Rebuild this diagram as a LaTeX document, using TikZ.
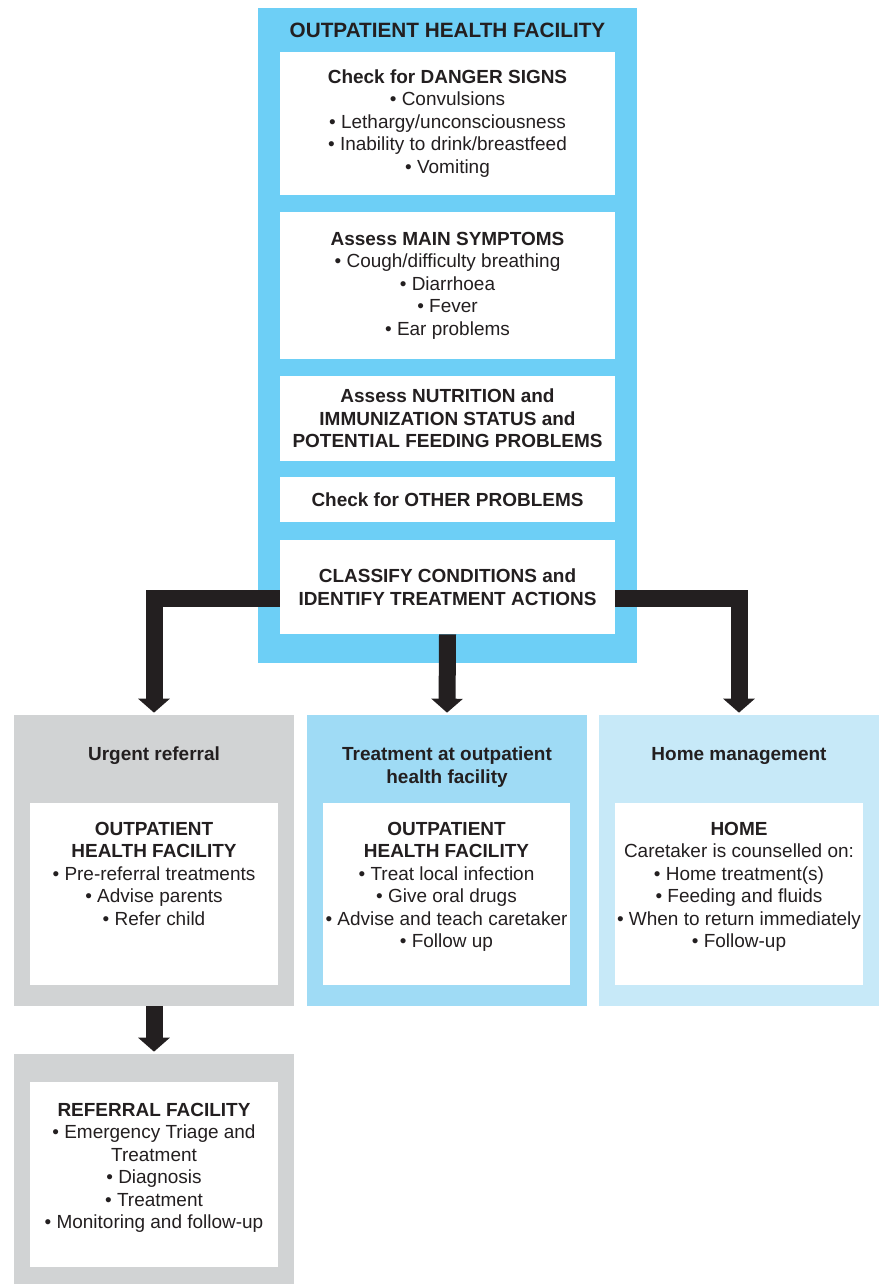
\documentclass[tikz,border=0pt]{standalone}
\usepackage{fontspec}
\setmainfont{Liberation Sans}
\usepackage{xcolor}
\usetikzlibrary{arrows.meta, positioning}

\definecolor{facblue}{HTML}{6DCFF6}
\definecolor{midblue}{HTML}{9FDBF5}
\definecolor{paleblue}{HTML}{C7E9F8}
\definecolor{refgray}{HTML}{D1D3D4}
\definecolor{ink}{HTML}{231F20}

\newcommand\bodytext{\fontsize{10.8pt}{12.8pt}\selectfont}
\newcommand\headtext{\bfseries\fontsize{10.8pt}{12.8pt}\selectfont}
\newcommand\titletext{\bfseries\fontsize{11.8pt}{14pt}\selectfont}

\begin{document}
\begin{tikzpicture}[
  x=0.02cm, y=-0.02cm,
  every node/.style={text=ink, inner sep=0pt},
  frame/.style={fill=facblue, minimum width=7.58cm, minimum height=13.1cm},
  panel/.style={fill=white, align=center, font=\bodytext, minimum width=6.7cm},
  outcome/.style={minimum width=5.6cm, minimum height=5.82cm},
  inset/.style={fill=white, minimum width=4.96cm},
  head/.style={font=\headtext, align=center, anchor=north},
  insettext/.style={font=\bodytext, align=center, anchor=north},
  bigarrow/.style={draw=ink, line width=0.34cm, line join=miter,
                   -{Triangle[width=0.62cm,length=0.28cm]}, shorten >=0.04cm}
]
\useasboundingbox (0,0) rectangle (881,1284);

% outpatient health facility
\node[frame] (outpatient) at (447.5,335.5) {};
\node[font=\titletext] (optitle) at (447.5,30) {OUTPATIENT HEALTH FACILITY};

\node[panel, minimum height=2.86cm] (danger) at (447.5,123.5)
  {\textbf{Check for DANGER SIGNS}\\ \textbullet{} Convulsions\\
   \textbullet{} Lethargy/unconsciousness\\
   \textbullet{} Inability to drink/breastfeed\\ \textbullet{} Vomiting};
\node[panel, minimum height=2.94cm] (symptoms) at (447.5,285.5)
  {\textbf{Assess MAIN SYMPTOMS}\\ \textbullet{} Cough/difficulty breathing\\
   \textbullet{} Diarrhoea\\ \textbullet{} Fever\\ \textbullet{} Ear problems};
\node[panel, minimum height=1.7cm, font=\headtext] (nutrition) at (447.5,418.5)
  {Assess NUTRITION and\\ IMMUNIZATION STATUS and\\ POTENTIAL FEEDING PROBLEMS};
\node[panel, minimum height=0.9cm, font=\headtext] (other) at (447.5,499.5)
  {Check for OTHER PROBLEMS};
\node[panel, minimum height=1.88cm, font=\headtext] (classify) at (447.5,587)
  {CLASSIFY CONDITIONS and\\ IDENTIFY TREATMENT ACTIONS};

% three outcomes
\node[outcome, fill=refgray] (urgent) at (154,860.5) {};
\node[outcome, fill=midblue] (treatment) at (447,860.5) {};
\node[outcome, fill=paleblue] (home) at (739,860.5) {};

\node[head] (urgenthead) at ([yshift=-0.64cm]urgent.north) {Urgent referral};
\node[head] (treathead) at ([yshift=-0.64cm]treatment.north)
  {Treatment at outpatient\\ health facility};
\node[head] (homehead) at ([yshift=-0.64cm]home.north) {Home management};

\node[inset, minimum height=3.64cm] (urgentbox) at (154,894) {};
\node[inset, minimum height=3.64cm] (treatbox) at (446.5,894) {};
\node[inset, minimum height=3.64cm] (homebox) at (739,894) {};

\node[insettext] (urgenttxt) at ([yshift=-0.38cm]urgentbox.north)
  {\textbf{OUTPATIENT}\\ \textbf{HEALTH FACILITY}\\
   \textbullet{} Pre-referral treatments\\ \textbullet{} Advise parents\\
   \textbullet{} Refer child};
\node[insettext] (treattxt) at ([yshift=-0.38cm]treatbox.north)
  {\textbf{OUTPATIENT}\\ \textbf{HEALTH FACILITY}\\
   \textbullet{} Treat local infection\\ \textbullet{} Give oral drugs\\
   \textbullet{} Advise and teach caretaker\\ \textbullet{} Follow up};
\node[insettext] (hometxt) at ([yshift=-0.38cm]homebox.north)
  {\textbf{HOME}\\ Caretaker is counselled on:\\
   \textbullet{} Home treatment(s)\\ \textbullet{} Feeding and fluids\\
   \textbullet{} When to return immediately\\ \textbullet{} Follow-up};

% referral facility
\node[minimum width=5.6cm, minimum height=4.6cm, fill=refgray] (referral) at (154,1169) {};
\node[inset, minimum height=3.7cm] (referralbox) at (154,1174.5) {};
\node[insettext] (referraltxt) at ([yshift=-0.42cm]referralbox.north)
  {\textbf{REFERRAL FACILITY}\\ \textbullet{} Emergency Triage and\\ Treatment\\
   \textbullet{} Diagnosis\\ \textbullet{} Treatment\\
   \textbullet{} Monitoring and follow-up};

\draw[bigarrow] ([yshift=-0.23cm]classify.west) -| (urgent.north);
\draw[bigarrow] (classify.south) -- (treatment.north);
\draw[bigarrow] ([yshift=-0.23cm]classify.east) -| (home.north);
\draw[bigarrow] (urgent.south) -- (referral.north);
\end{tikzpicture}
\end{document}
